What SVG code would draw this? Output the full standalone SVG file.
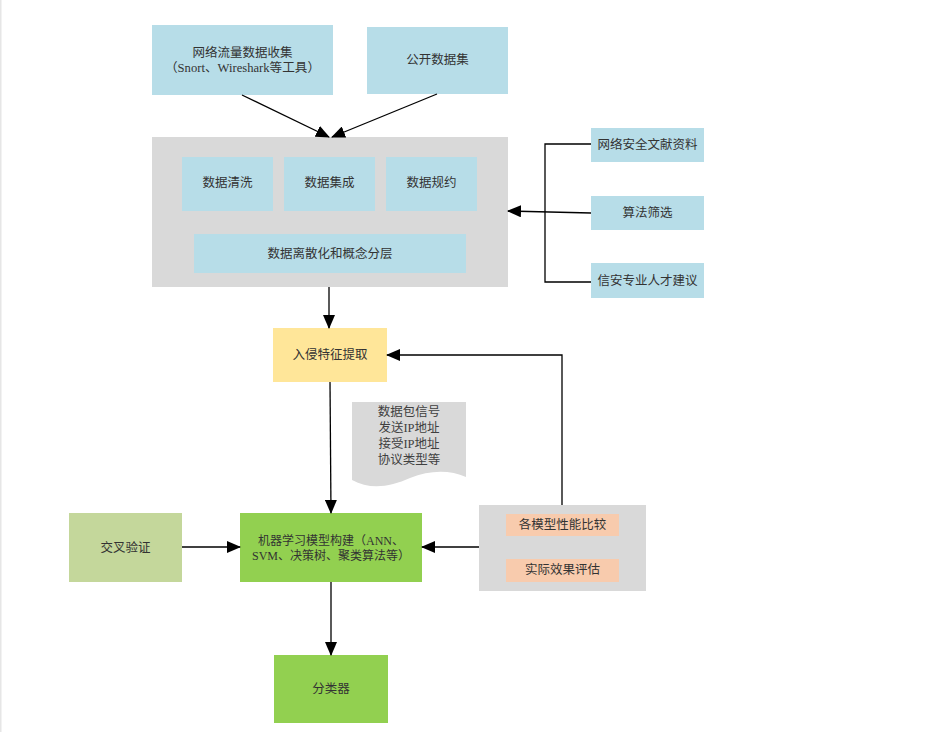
<svg xmlns="http://www.w3.org/2000/svg" width="930" height="732" viewBox="0 0 930 732">
<defs>
<style>
text{font-family:"Liberation Serif","Noto Sans CJK SC",serif;font-size:12.5px;fill:#333;text-anchor:middle;dominant-baseline:central}
.blue{fill:#B7DDE8}
.gray{fill:#D9D9D9}
.yellow{fill:#FFE699}
.green{fill:#92D050}
.olive{fill:#C4D79B}
.orange{fill:#F8CBAD}
.ln{fill:none;stroke:#000;stroke-width:1.3}
.arr{marker-end:url(#ah)}
</style>
<marker id="ah" markerUnits="userSpaceOnUse" markerWidth="14" markerHeight="12" viewBox="0 0 14 12" refX="13" refY="6" orient="auto">
<path d="M0,0 L14,6 L0,12 Z" fill="#000"/>
</marker>
</defs>
<rect x="0" y="0" width="928" height="732" fill="#fff"/>
<rect x="0" y="0" width="1.5" height="732" fill="#E6E6E6"/>

<g id="n-traffic"><rect class="blue" x="152" y="25" width="181" height="70"/><text x="242.5" y="53">网络流量数据收集</text><text x="242.5" y="68" textLength="155" lengthAdjust="spacingAndGlyphs">（Snort、Wireshark等工具）</text></g>
<g id="n-public"><rect class="blue" x="367" y="27" width="141" height="67"/><text x="437.5" y="60">公开数据集</text></g>

<g id="n-preprocess"><rect class="gray" x="152" y="137" width="356" height="150"/>
<g id="n-clean"><rect class="blue" x="182" y="157" width="91" height="54"/><text x="227.5" y="183">数据清洗</text></g>
<g id="n-integrate"><rect class="blue" x="284" y="157" width="91" height="54"/><text x="329.5" y="183">数据集成</text></g>
<g id="n-reduce"><rect class="blue" x="386" y="157" width="91" height="54"/><text x="431.5" y="183">数据规约</text></g>
<g id="n-discrete"><rect class="blue" x="194" y="234" width="272" height="39"/><text x="330" y="254">数据离散化和概念分层</text></g>
</g>

<g id="n-lit"><rect class="blue" x="591" y="128" width="113" height="34"/><text x="647.5" y="145">网络安全文献资料</text></g>
<g id="n-algo"><rect class="blue" x="591" y="196" width="113" height="34"/><text x="647.5" y="213">算法筛选</text></g>
<g id="n-expert"><rect class="blue" x="591" y="263" width="113" height="35"/><text x="647.5" y="281">信安专业人才建议</text></g>

<g id="n-feature"><rect class="yellow" x="273" y="328" width="114" height="54"/><text x="330" y="355">入侵特征提取</text></g>

<g id="n-note"><path class="gray" d="M352,402 H466 V477 C450,470 430,470 410,478 C390,487 370,490 352,480 Z"/>
<text x="409" y="412" style="fill:#404040">数据包信号</text>
<text x="409" y="428" style="fill:#404040">发送IP地址</text>
<text x="409" y="444" style="fill:#404040">接受IP地址</text>
<text x="409" y="460" style="fill:#404040">协议类型等</text></g>

<g id="n-cv"><rect class="olive" x="69" y="513" width="113" height="69"/><text x="125.5" y="548">交叉验证</text></g>
<g id="n-ml"><rect class="green" x="240" y="513" width="182" height="69"/><text x="331" y="541" style="font-size:12px">机器学习模型构建（ANN、</text><text x="331" y="556" style="font-size:12px">SVM、决策树、聚类算法等）</text></g>
<g id="n-eval"><rect class="gray" x="479" y="505" width="167" height="86"/>
<g id="n-compare"><rect class="orange" x="506" y="514" width="113" height="22"/><text x="562.5" y="525">各模型性能比较</text></g>
<g id="n-assess"><rect class="orange" x="506" y="559" width="113" height="23"/><text x="562.5" y="570">实际效果评估</text></g>
</g>
<g id="n-classifier"><rect class="green" x="274" y="655" width="114" height="68"/><text x="331" y="689">分类器</text></g>

<g id="connectors">
<line class="ln arr" x1="242" y1="95" x2="329" y2="137"/>
<line class="ln arr" x1="437" y1="94" x2="332" y2="137"/>
<polyline class="ln" points="591,144 545,144 545,282 591,282"/>
<line class="ln arr" x1="591" y1="213" x2="508" y2="211"/>
<line class="ln arr" x1="329" y1="287" x2="329" y2="328"/>
<line class="ln arr" x1="330" y1="382" x2="331" y2="513"/>
<polyline class="ln arr" points="562,505 562,355 387,355"/>
<line class="ln arr" x1="182" y1="547" x2="240" y2="547"/>
<line class="ln arr" x1="479" y1="547" x2="422" y2="547"/>
<line class="ln arr" x1="331" y1="582" x2="331" y2="655"/>
</g>
</svg>
